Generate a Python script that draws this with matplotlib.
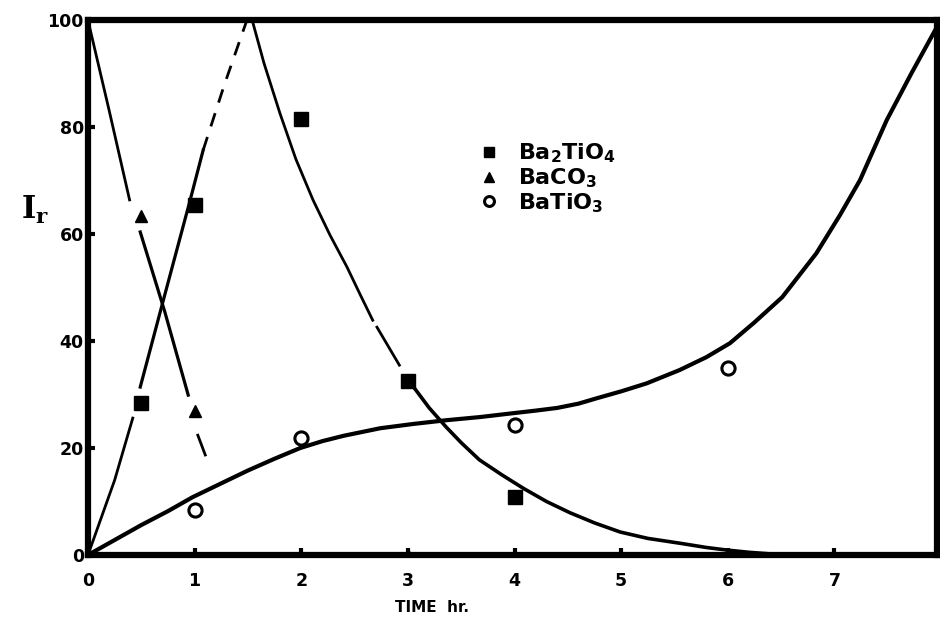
import matplotlib
matplotlib.use('Agg')
import matplotlib.pyplot as plt

plt.rcParams['font.family'] = ['DejaVu Sans']
plt.rcParams['mathtext.default'] = 'bf'

# measured points
ba2tio4_t = [0.5, 1, 2, 3, 4]
ba2tio4_i = [28.5, 65.4, 81.5, 32.5, 10.8]
baco3_t = [0.5, 1, 3, 6]
baco3_i = [63.4, 27, 0, 0]
batio3_t = [1, 2, 4, 6]
batio3_i = [8.4, 21.9, 24.3, 35]

# hand drawn curves
# BaCO3 decay
co3_a_x = [0, 0.2, 0.39]
co3_a_y = [100, 83, 66.4]
co3_b_x = [0.49, 0.72, 0.94]
co3_b_y = [60.4, 45.5, 29.9]
co3_c_x = [1.03, 1.1]
co3_c_y = [22.4, 18.7]

# Ba2TiO4 rise
rise_a_x = [0, 0.25, 0.42]
rise_a_y = [0, 14, 25.6]
rise_b_x = [0.49, 0.69, 0.96, 1.08]
rise_b_y = [31.4, 46.4, 66.5, 75.7]
rise_c_x = [1.08, 1.28, 1.49]
rise_c_y = [75.7, 88, 100]

# Ba2TiO4 decay
dec_a_x = [1.54, 1.65, 1.80, 1.95, 2.11, 2.27, 2.43, 2.55, 2.67]
dec_a_y = [100, 92, 82.6, 74, 66.4, 59.8, 53.8, 48.8, 43.9]
dec_b_x = [2.71, 2.92]
dec_b_y = [42.6, 35.5]
dec_c_x = [3.05, 3.2, 3.36, 3.5, 3.67, 3.88, 4.08, 4.3, 4.52, 4.75, 4.99,
           5.25, 5.55, 5.8, 6.0, 6.2, 6.4, 7.0, 7.96]
dec_c_y = [31.5, 27.5, 23.9, 21, 17.8, 15, 12.5, 10, 7.9, 6, 4.3,
           3.1, 2.2, 1.4, 0.9, 0.5, 0.2, 0, 0]

# BaTiO3 growth
tio3_x = [0, 0.25, 0.5, 0.75, 0.98, 1.25, 1.5, 1.75, 1.99, 2.2, 2.4, 2.74,
          3.05, 3.36, 3.68, 3.98, 4.2, 4.4, 4.6, 4.77, 5.0, 5.24, 5.55, 5.8,
          6.02, 6.25, 6.51, 6.83, 7.05, 7.24, 7.49, 7.72, 7.96]
tio3_y = [0, 2.8, 5.6, 8.2, 10.8, 13.4, 15.8, 18, 20, 21.3, 22.3, 23.7,
          24.5, 25.2, 25.8, 26.5, 27, 27.5, 28.3, 29.3, 30.6, 32.1, 34.6, 37,
          39.6, 43.5, 48.2, 56.4, 63.5, 70.1, 81.3, 90, 98.7]

fig = plt.figure(figsize=(9.4, 6.24), dpi=100)
ax = fig.add_axes([0.0936, 0.1106, 0.903, 0.857])

lw = 2.0
ax.plot(co3_a_x, co3_a_y, 'k-', lw=lw)
ax.plot(co3_b_x, co3_b_y, 'k-', lw=lw + 0.3)
ax.plot(co3_c_x, co3_c_y, 'k-', lw=lw)
ax.plot(rise_a_x, rise_a_y, 'k-', lw=lw)
ax.plot(rise_b_x, rise_b_y, 'k-', lw=lw + 0.3)
ax.plot(rise_c_x, rise_c_y, 'k', lw=lw, dashes=(5, 4))
ax.plot(dec_a_x, dec_a_y, 'k-', lw=lw)
ax.plot(dec_b_x, dec_b_y, 'k-', lw=lw)
ax.plot(dec_c_x, dec_c_y, 'k-', lw=lw + 0.6)
ax.plot(tio3_x, tio3_y, 'k-', lw=lw + 1.0, solid_joinstyle='round')

ax.plot(ba2tio4_t, ba2tio4_i, 's', color='k', ms=9.5, label=r'Ba$_2$TiO$_4$')
ax.plot(baco3_t, baco3_i, '^', color='k', ms=9, label=r'BaCO$_3$')
ax.plot(batio3_t, batio3_i, 'o', mfc='white', mec='k', mew=2.2, ms=9.5, label=r'BaTiO$_3$')

ax.set_xlim(0, 7.96)
ax.set_ylim(0, 100)
ax.set_xticks(range(0, 8))
ax.set_yticks(range(0, 101, 20))
for s in ax.spines.values():
    s.set_linewidth(4.5)
ax.tick_params(axis='both', direction='in', length=5, width=3, labelsize=12.5)
ax.tick_params(axis='x', pad=12)
ax.tick_params(axis='y', pad=3)
for lab in ax.get_xticklabels() + ax.get_yticklabels():
    lab.set_fontweight('bold')

ax.text(-0.062, 0.645, r'$\mathbf{I}_r$', transform=ax.transAxes, fontsize=22,
        math_fontfamily='dejavuserif', ha='center', va='center')
fig.text(432 / 940, 1 - 607 / 624, 'TIME  hr.', ha='center', va='center',
         fontsize=11, fontweight='bold')

leg = ax.legend(loc='upper left', bbox_to_anchor=(0.441, 0.81), frameon=False,
                handlelength=0.6, handletextpad=1.0, labelspacing=0.05,
                markerscale=0.75, prop={'size': 16, 'weight': 'bold'})

fig.savefig('out.png', dpi=100)
